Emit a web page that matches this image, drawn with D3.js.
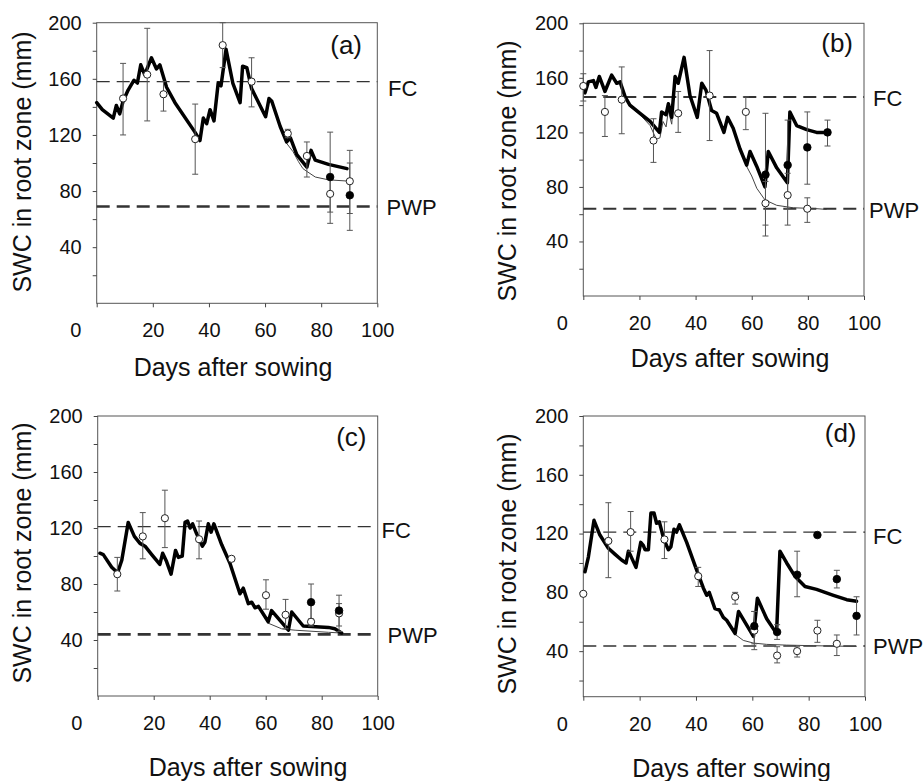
<!DOCTYPE html>
<html><head><meta charset="utf-8">
<script src="https://cdn.jsdelivr.net/npm/d3@7"></script>
<style>
body{margin:0;background:#fff}
svg{display:block}
text{font-family:Arial,"Liberation Sans",sans-serif;fill:#111}
</style></head>
<body><svg id="chart" width="923" height="781"></svg>
<script>
// ---------- data ----------
const xTicks = [0, 20, 40, 60, 80, 100];
const yTicks = [40, 80, 120, 160, 200];
const yMinorTicks = [20, 60, 100, 140, 180];
const panelNames = ["(a)", "(b)", "(c)", "(d)"];
const xTitle = "Days after sowing";
const yTitle = "SWC in root zone (mm)";

// simulated (thick line): [day, mm]
const simA = [[0,143],[2,138],[5.9,132],[7,141],[8.2,135],[9.4,144],[11.2,152],[13.3,159],[14.5,157],[15.7,170],[17.1,163],[19.5,175],[21.3,167],[22.5,170],[24.9,154],[27.9,143],[35,122],[36.8,116],[38,132],[39.2,128],[40.4,138],[41.8,130],[43.3,157],[44.3,155],[46.1,181],[48.5,157],[51.1,143],[52,169],[53.5,168],[55.2,153],[58.2,141],[60.2,133],[61.4,146],[62.4,144],[65.4,126],[67.7,115],[69,118],[71.3,106],[74.9,97],[76.4,109],[77.9,102],[82.6,99],[89.2,96]];
const simB = [[0.6,149],[1.8,157],[3.6,158],[4.5,153],[5.7,161],[7.7,150],[10.1,162],[11.9,156],[13.1,157],[14.9,146],[16.6,140],[20.2,134],[23.8,128],[27.1,120],[27.9,135],[29.5,133],[30.3,141],[31.5,131],[32.7,161],[33.8,156],[35.9,175],[38,147],[40.6,131],[42.2,156],[43.7,151],[45.7,136],[47.5,134],[50.1,120],[51.4,131],[53.4,123],[55.8,108],[58.2,96],[59.4,106],[61.8,95],[64.7,80],[65.9,106],[68.9,94],[72.7,83],[73.6,135],[76,125],[79.6,122],[83.1,120],[86.9,120]];
const simC = [[0.8,102],[2,101],[5,92],[7.1,88],[8.6,97],[10.9,124],[13.1,114],[15.1,109],[16.9,107],[19.3,101],[22.2,94],[23.2,102],[24.6,96],[26.2,87],[27.8,104],[28.8,99],[30.2,100],[31.2,124],[32.1,125],[33,120],[33.9,123],[35.3,116],[37.4,107],[38.3,110],[39.5,123],[40.5,117],[41.5,123],[44.3,108],[47.2,95],[50.8,73],[52,77],[53.8,66],[55,67],[56.2,63],[57.4,64],[60.9,53],[62.1,61],[68.1,47],[69.3,60],[73.4,50],[82.4,49],[84.7,48],[87.1,45]];
const simD = [[0.6,94],[1.8,104],[3.8,129],[5.9,119],[8.9,110],[11.2,106],[13.6,102],[15.2,100],[16,108],[16.8,105],[18.7,97],[20.4,114],[21.3,112],[21.9,109],[23.1,109],[24,134],[25.1,134],[26,127],[27,128],[28.6,116],[30.2,109],[31.1,111],[32.2,123],[33.1,121],[34.1,126],[36.7,114],[39.7,98],[42.6,83],[43.8,78],[44.7,80],[46.7,69],[48.3,68],[49.7,63],[50.9,61],[53.9,52],[55.1,67],[60.4,50],[61.8,76],[65.1,62],[68.6,52],[69.8,108],[72.2,100],[75.1,91],[78.7,84],[82.8,82],[88.8,78],[93.5,75],[97,74]];

// simulated (thin line): [day, mm], null = gap
const thinA = [[65.4,126],[67.7,114],[70,108],[71.9,101],[73.5,96],[74.9,94],[77.9,90],[82.6,88],[90.4,87]];
const thinB = [[14.9,146],[16.6,139],[20.2,133],[23.8,125],[26,115],[27.3,116],[28.4,128],[29.5,124],[30.3,136],[31.5,126],[32.7,158],null,[55.8,108],[58.2,95],[60,88],[61.8,79],[64.7,70.5],[68.9,66.5],[74.8,64.7],[82,64.2],[86.7,63.5]];
const thinC = [[56.2,63],[57.4,63],[60.9,52],[65.7,48],[70.5,47],[82.4,45.5],[87.1,45]];
const thinD = [[49.7,63],[50.9,60],[53.9,51.4],[56.8,47.3],[60.4,45.5],[65.1,44.6],[72.2,44.1],[81.7,43.7],[97,43.2]];

// observed: [day, mean, low, high]
const openA = [[9.4,146,120,171],[18,163,130,196],[23.8,149,137,158],[35.1,117,92,142],[44.9,184,168,200],[55.2,158,140,175],[68.1,121,118,124],[74.9,105,90,115],[83.2,78,65,91],[90.2,87,64,100]];
const filledA = [[83.2,90,57,122],[90.2,77,52,109]];
const openB = [[0,154,143,163],[7.7,135,117,147],[13.7,144,119,168],[25,114,98,130],[33.8,134,120,150],[45,147,114,180],[57.9,135,122,146],[64.9,68,52,84],[72.8,74,52,90],[79.8,64,54,72]];
const filledB = [[64.9,89,44,134],[72.8,96,64,129],[79.8,109,82,135],[87,120,110,129]];
const openC = [[7,87,75,99],[16.1,114,98,131],[24,127,106,147],[36.2,112,98,125],[47.8,98,98,98],[60.1,72,62,83],[67.1,58,48,69],[76.2,53,50,68],[86.2,59,46,66]];
const filledC = [[76.2,67,55,80],[86.2,61,50,72]];
const openD = [[0,79,79,79],[8.9,115,90,141],[16.8,121,108,135],[28.8,116,103,128],[40.8,91,84,97],[53.9,77,72,80],[60.7,54,41,67],[68.8,37,32,43],[75.9,40,36,43],[83.1,54,46,61],[90,45,37,51]];
const filledD = [[60.7,57,45,67],[68.8,53,48,58],[75.9,92,77,108],[83.1,119,119,119],[90,89,83,95],[97,64,51,77]];

// field capacity and permanent wilting point (mm)
const fcValues = [158, 146, 121, 121];
const pwpValues = [69, 64, 44, 43.5];

// ---------- layout ----------
const layouts = [
  {x0:96.7, x1:377.3, yTop:22.7, yBot:303.3, yMin:0, fcW:1.2, pwpW:2.6,
   yt:[21.7,162], xt:[233,367], lab:[362,45], fcLab:[388,88], pwpLab:[386.5,207]},
  {x0:583.3, x1:864, yTop:23.3, yBot:296, yMin:0, fcW:2, pwpW:2,
   yt:[506.7,171], xt:[730,358], lab:[853,43], fcLab:[873,98], pwpLab:[869,210]},
  {x0:97.7, x1:377.7, yTop:416, yBot:696, yMin:0, fcW:1.2, pwpW:2.6,
   yt:[21.7,553], xt:[248,767], lab:[366.5,437], fcLab:[381.5,530], pwpLab:[387.5,635]},
  {x0:583.3, x1:865, yTop:416, yBot:696.7, yMin:9, fcW:1.3, pwpW:1.3,
   yt:[506.7,564], xt:[731.5,768], lab:[856.5,433], fcLab:[873,536], pwpLab:[873,646]}
];

const sims = [simA, simB, simC, simD];
const thins = [thinA, thinB, thinC, thinD];
const opens = [openA, openB, openC, openD];
const filleds = [filledA, filledB, filledC, filledD];

const svg = d3.select("#chart");

layouts.forEach((L, i) => {
  const x = d3.scaleLinear().domain([0, 100]).range([L.x0, L.x1]);
  const y = d3.scaleLinear().domain([L.yMin, 200]).range([L.yBot, L.yTop]);
  const g = svg.append("g");

  // frame
  g.append("rect").attr("x", L.x0).attr("y", L.yTop)
    .attr("width", L.x1 - L.x0).attr("height", L.yBot - L.yTop)
    .attr("fill", "none").attr("stroke", "#555").attr("stroke-width", 1);

  // y axis
  const ya = g.append("g").attr("transform", `translate(${L.x0},0)`)
    .call(d3.axisLeft(y).tickValues(yTicks).tickSize(4).tickPadding(11).tickFormat(d3.format("d")));
  ya.select(".domain").remove();
  ya.selectAll("line").attr("stroke", "#444");
  ya.selectAll("text").attr("font-size", 20).attr("fill", "#111").attr("font-family", "Arial, 'Liberation Sans', sans-serif");
  const ym = g.append("g").attr("transform", `translate(${L.x0},0)`)
    .call(d3.axisLeft(y).tickValues(yMinorTicks).tickSize(4).tickFormat(""));
  ym.select(".domain").remove();
  ym.selectAll("line").attr("stroke", "#444");

  // x axis
  const xa = g.append("g").attr("transform", `translate(0,${L.yBot})`)
    .call(d3.axisBottom(x).tickValues(xTicks).tickSize(4).tickPadding(16)
      .tickFormat(d => d === 0 ? "" : d3.format("d")(d)));
  xa.select(".domain").remove();
  xa.selectAll("line").attr("stroke", "#444");
  xa.selectAll("text").attr("font-size", 20).attr("fill", "#111").attr("font-family", "Arial, 'Liberation Sans', sans-serif");
  g.append("text").attr("x", x(0) - 21).attr("y", L.yBot + 27)
    .attr("text-anchor", "middle").attr("dominant-baseline", "central")
    .attr("font-size", 20).text(d3.format("d")(xTicks[0]));

  // titles
  g.append("text").attr("transform", `translate(${L.yt[0]},${L.yt[1]}) rotate(-90)`)
    .attr("text-anchor", "middle").attr("dominant-baseline", "central")
    .attr("font-size", 25).text(yTitle);
  g.append("text").attr("x", L.xt[0]).attr("y", L.xt[1])
    .attr("text-anchor", "middle").attr("dominant-baseline", "central")
    .attr("font-size", 25).text(xTitle);
  g.append("text").attr("x", L.lab[0]).attr("y", L.lab[1])
    .attr("text-anchor", "end").attr("dominant-baseline", "central")
    .attr("font-size", 26).text(panelNames[i]);

  // FC / PWP reference lines
  [[fcValues[i], L.fcW, "FC", L.fcLab], [pwpValues[i], L.pwpW, "PWP", L.pwpLab]].forEach(([v, w, name, pos]) => {
    g.append("line").attr("x1", L.x0).attr("x2", L.x1)
      .attr("y1", y(v)).attr("y2", y(v))
      .attr("stroke", "#333").attr("stroke-width", w).attr("stroke-dasharray", "13,7");
    g.append("text").attr("x", pos[0]).attr("y", pos[1])
      .attr("dominant-baseline", "central").attr("font-size", 22).text(name);
  });

  // simulated lines
  const line = d3.line().defined(d => d != null).x(d => x(d[0])).y(d => y(d[1]));
  g.append("path").datum(thins[i]).attr("d", line)
    .attr("fill", "none").attr("stroke", "#444").attr("stroke-width", 1);
  g.append("path").datum(sims[i]).attr("d", line)
    .attr("fill", "none").attr("stroke", "#000").attr("stroke-width", 3.5)
    .attr("stroke-linejoin", "round").attr("stroke-linecap", "round");

  // error bars
  const obs = opens[i].concat(filleds[i]).filter(d => d[3] > d[2]);
  const eb = g.append("g").attr("stroke", "#555").attr("stroke-width", 1);
  obs.forEach(d => {
    eb.append("line").attr("x1", x(d[0])).attr("x2", x(d[0])).attr("y1", y(d[2])).attr("y2", y(d[3]));
    [d[2], d[3]].forEach(v => eb.append("line")
      .attr("x1", x(d[0]) - 3).attr("x2", x(d[0]) + 3).attr("y1", y(v)).attr("y2", y(v)));
  });

  // markers
  g.append("g").selectAll("circle").data(opens[i]).join("circle")
    .attr("cx", d => x(d[0])).attr("cy", d => y(d[1])).attr("r", 3.6)
    .attr("fill", "#fff").attr("stroke", "#222").attr("stroke-width", 1);
  g.append("g").selectAll("circle").data(filleds[i]).join("circle")
    .attr("cx", d => x(d[0])).attr("cy", d => y(d[1])).attr("r", 3.8)
    .attr("fill", "#000").attr("stroke", "#000").attr("stroke-width", 0.8);
});
</script>
</body></html>
